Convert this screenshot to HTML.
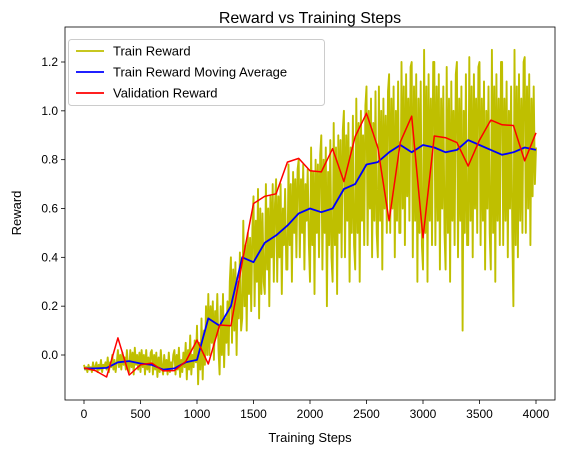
<!DOCTYPE html>
<html><head><meta charset="utf-8"><style>
body{margin:0;background:#fff;}
svg{display:block;font-family:"Liberation Sans","DejaVu Sans",sans-serif;}
</style></head><body>
<svg id="chart" width="567" height="455" viewBox="0 0 567 455"></svg>
<script>
const xTicks=[0,500,1000,1500,2000,2500,3000,3500,4000];
const yTicks=[0.0,0.2,0.4,0.6,0.8,1.0,1.2];
const valSteps=[0,100,200,300,400,500,600,700,800,900,1000,1100,1200,1300,1400,1500,1600,1700,1800,1900,2000,2100,2200,2300,2400,2500,2600,2700,2800,2900,3000,3100,3200,3300,3400,3500,3600,3700,3800,3900,4000];
const valReward=[-0.053,-0.064,-0.09,0.07,-0.082,-0.04,-0.033,-0.065,-0.064,-0.027,0.061,-0.037,0.123,0.12,0.38,0.62,0.65,0.66,0.79,0.805,0.755,0.75,0.845,0.71,0.895,0.99,0.85,0.55,0.873,0.978,0.48,0.897,0.89,0.87,0.774,0.88,0.962,0.943,0.94,0.795,0.91];
const maReward=[-0.055,-0.055,-0.053,-0.03,-0.025,-0.035,-0.04,-0.06,-0.055,-0.03,-0.02,0.15,0.12,0.2,0.4,0.38,0.46,0.49,0.53,0.58,0.6,0.585,0.6,0.68,0.7,0.78,0.79,0.83,0.86,0.83,0.86,0.85,0.83,0.84,0.88,0.86,0.84,0.82,0.83,0.85,0.84];
const trainReward=[
-0.04,-0.06,-0.05,-0.07,-0.04,-0.06,-0.05,-0.07,-0.03,-0.06,
-0.05,-0.03,-0.07,-0.04,-0.06,-0.02,-0.07,-0.04,-0.05,-0.03,
-0.06,-0.01,-0.07,-0.03,-0.05,0.0,-0.06,-0.02,-0.07,-0.03,
0.02,-0.05,0.0,-0.06,0.01,-0.04,-0.01,-0.06,0.02,-0.05,
-0.07,0.02,-0.05,0.01,-0.08,0.03,-0.04,0.0,-0.06,0.01,
-0.07,0.02,-0.05,0.0,-0.08,0.02,-0.06,-0.01,-0.07,0.01,
0.02,-0.08,0.0,-0.06,0.01,-0.09,-0.01,-0.07,0.02,-0.05,
-0.08,0.0,-0.06,-0.02,-0.08,0.01,-0.07,-0.03,-0.06,0.0,
0.02,-0.08,0.0,-0.06,0.03,-0.09,-0.02,-0.07,0.01,-0.05,
0.05,-0.1,0.02,-0.06,0.08,-0.08,0.0,-0.05,0.06,-0.03,
0.12,-0.12,0.05,-0.06,0.15,-0.1,0.1,-0.04,0.2,0.0,
0.25,0.0,0.2,0.05,0.22,-0.02,0.18,0.08,0.25,0.02,
-0.08,0.2,0.0,0.25,-0.05,0.15,0.05,0.22,0.0,0.3,
0.4,0.05,0.35,0.1,0.38,0.0,0.3,0.15,0.42,0.1,
0.15,0.55,0.2,0.45,0.1,0.5,0.25,0.48,0.18,0.52,
0.65,0.2,0.55,0.3,0.68,0.15,0.6,0.25,0.58,0.3,
0.25,0.7,0.35,0.6,0.2,0.65,0.4,0.7,0.3,0.62,
0.72,0.3,0.65,0.4,0.7,0.25,0.6,0.45,0.68,0.35,
0.35,0.78,0.45,0.7,0.3,0.75,0.5,0.72,0.4,0.76,
0.8,0.4,0.72,0.5,0.78,0.35,0.7,0.55,0.76,0.45,
0.3,0.85,0.45,0.75,0.25,0.8,0.5,0.78,0.4,0.82,
0.9,0.35,0.8,0.5,0.85,0.2,0.75,0.45,0.88,0.4,
0.3,0.95,0.45,0.85,0.25,0.9,0.5,0.88,0.4,0.92,
1.0,0.4,0.9,0.55,0.95,0.3,0.85,0.5,0.98,0.45,
0.35,1.05,0.5,0.95,0.3,1.0,0.55,0.9,0.45,1.02,
1.1,0.45,1.0,0.6,1.05,0.4,0.95,0.55,1.08,0.5,
0.4,1.1,0.55,1.0,0.35,1.05,0.6,0.98,0.5,1.08,
1.15,0.5,1.05,0.6,1.1,0.4,1.0,0.55,1.12,0.5,
0.5,1.2,0.6,1.1,0.45,1.15,0.65,1.05,0.55,1.18,
1.2,0.4,1.1,0.55,1.15,0.3,1.05,0.5,1.12,0.45,
0.35,1.25,0.5,1.1,0.3,1.15,0.55,1.05,0.45,1.2,
1.2,0.45,1.1,0.55,1.15,0.35,1.05,0.6,1.1,0.5,
0.35,1.18,0.5,1.05,0.3,1.12,0.55,1.0,0.45,1.15,
1.2,0.4,1.05,0.55,1.1,0.1,1.0,0.5,1.15,0.45,
0.45,1.22,0.55,1.1,0.4,1.15,0.6,1.05,0.5,1.18,
1.2,0.45,1.05,0.55,1.12,0.35,1.0,0.6,1.1,0.5,
0.35,1.25,0.5,1.1,0.3,1.15,0.55,1.05,0.45,1.2,
1.2,0.45,1.05,0.55,1.12,0.4,1.0,0.6,1.1,0.5,
0.2,1.25,0.45,1.1,0.4,1.15,0.55,1.05,0.5,1.2,
1.22,0.5,1.1,0.6,1.15,0.45,1.05,0.65,1.1,0.7,
0.85];
const trainStepSize=10;

const L=65,R=555,T=27,B=400;
const xs=v=>84+(v/4000)*(536-84);
const ys=v=>355-(v/1.2)*(355-62);
const svg=document.getElementById('chart');
const NS='http://www.w3.org/2000/svg';
function mk(tag,attrs,parent){const e=document.createElementNS(NS,tag);for(const k in attrs)e.setAttribute(k,attrs[k]);(parent||svg).appendChild(e);return e;}

const title=mk('text',{x:310,y:23,'text-anchor':'middle','font-size':'16'});title.textContent='Reward vs Training Steps';



xTicks.forEach(t=>{
  const g=mk('g',{});
  
  
  mk('line',{x1:xs(t),x2:xs(t),y1:B,y2:B+4,stroke:'#000','stroke-width':0.8},g);
  const tx=mk('text',{x:xs(t),y:B+18,'text-anchor':'middle','font-size':'12'},g);tx.textContent=String(t);
});
yTicks.forEach(t=>{
  const g=mk('g',{});
  
  
  mk('line',{x1:L-4,x2:L,y1:ys(t),y2:ys(t),stroke:'#000','stroke-width':0.8},g);
  const tx=mk('text',{x:L-7,y:ys(t)+4,'text-anchor':'end','font-size':'12'},g);tx.textContent=t.toFixed(1);
});
const xl=mk('text',{x:310,y:442,'text-anchor':'middle','font-size':'13'});xl.textContent='Training Steps';


const yl=mk('text',{x:21,y:213,'text-anchor':'middle','font-size':'13',transform:'rotate(-90 21 213)'});yl.textContent='Reward';



function path(xsArr,vals,color,w,name){
  const d=vals.map((v,i)=>(i?'L':'M')+xs(xsArr[i]).toFixed(1)+','+ys(v).toFixed(1)).join('');
  const p=mk('path',{d:d,fill:'none',stroke:color,'stroke-width':w,'stroke-linejoin':'round'});
  
  
}
const trainSteps=trainReward.map((v,i)=>i*trainStepSize);
path(trainSteps,trainReward,'#bfbf00',1.9,'train-reward-line');
path(valSteps,maReward,'#0000ff',1.8,'moving-average-line');
path(valSteps,valReward,'#ff0000',1.5,'validation-reward-line');

const frame=mk('rect',{x:L,y:T,width:R-L,height:B-T,fill:'none',stroke:'#000','stroke-width':0.8});



const lg=mk('g',{});


mk('rect',{x:68.5,y:39.5,width:256,height:66,rx:3,fill:'#fff','fill-opacity':0.8,stroke:'#ccc'},lg);
[['Train Reward','#bfbf00'],['Train Reward Moving Average','#0000ff'],['Validation Reward','#ff0000']].forEach((e,i)=>{
  const y=51+i*21;
  const g=mk('g',{},lg);
  
  
  mk('line',{x1:76,x2:104,y1:y,y2:y,stroke:e[1],'stroke-width':1.8},g);
  const t=mk('text',{x:113,y:y+4.5,'font-size':'13'},g);t.textContent=e[0];
});
</script>
</body></html>
